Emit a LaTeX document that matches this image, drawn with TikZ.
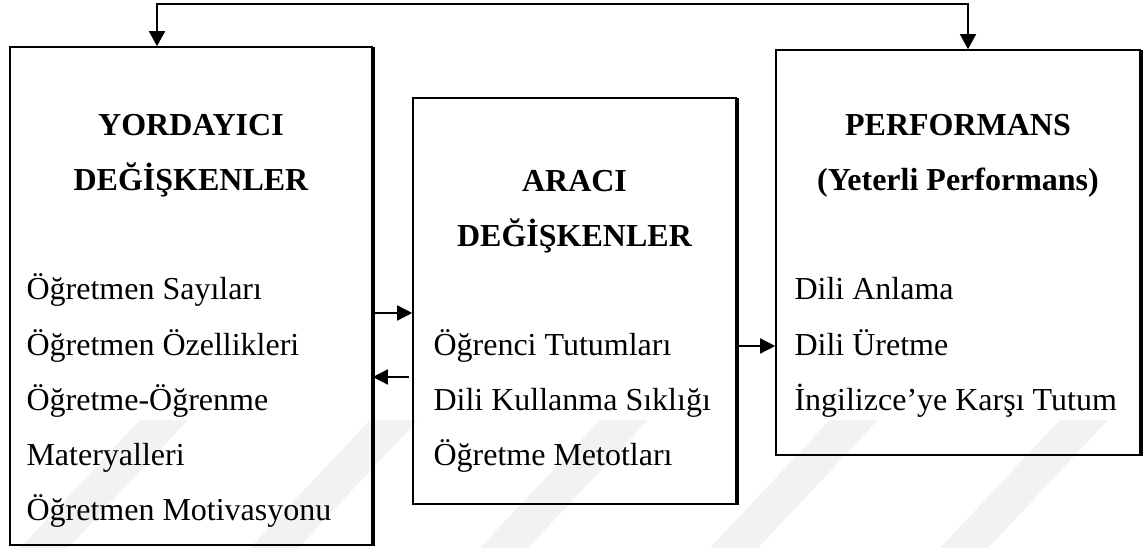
\documentclass[tikz,border=0pt]{standalone}
\usepackage{fontspec}
\setmainfont{Liberation Serif}
\usetikzlibrary{arrows.meta}
\begin{document}
\begin{tikzpicture}[x=1pt,y=-1pt,
  box/.style={draw, line width=1.6pt, inner sep=0pt},
  edgeshadow/.style={line width=1.8pt},
  conn/.style={line width=1.5pt},
  tip/.style={-{Triangle[length=15pt,width=15pt]}},
  headtext/.style={anchor=base, font=\fontsize{32}{38}\selectfont\bfseries},
  itemtext/.style={anchor=base west, font=\fontsize{32}{38}\selectfont},
  stripe/.style={fill=black!5, draw=none}]
\useasboundingbox (0,0) rectangle (1144,548);

% faint background stripes
\foreach \s in {20,250,480,710,940}{
  \fill[stripe] (\s,548) -- (\s+48,548) -- (\s+168,420) -- (\s+120,420) -- cycle;
}

% the three boxes
\node[box, minimum width=362pt, minimum height=498pt] (L) at (191,296) {};
\node[box, minimum width=323pt, minimum height=406pt] (M) at (574.5,301) {};
\node[box, minimum width=364pt, minimum height=405pt] (R) at (958,252.5) {};
% heavier right and bottom edges
\foreach \b in {L,M,R}{
  \draw[edgeshadow] ([xshift=1.1pt,yshift=-1pt]\b.north east) -- ([shift={(1.1pt,1.1pt)}]\b.south east) -- ([xshift=1pt,yshift=1.1pt]\b.south west);
}

% left box texts
\node[headtext] (l1) at (191,136) {YORDAYICI};
\node[headtext] (l2) at (191,191) {DEĞİŞKENLER};
\node[itemtext] (l3) at (23,300) {Öğretmen Sayıları};
\node[itemtext] (l4) at (23,355) {Öğretmen Özellikleri};
\node[itemtext] (l5) at (23,410) {Öğretme-Öğrenme};
\node[itemtext] (l6) at (23,465) {Materyalleri};
\node[itemtext] (l7) at (23,520) {Öğretmen Motivasyonu};

% middle box texts
\node[headtext] (m1) at (574.5,192) {ARACI};
\node[headtext] (m2) at (574.5,247) {DEĞİŞKENLER};
\node[itemtext] (m3) at (430,355) {Öğrenci Tutumları};
\node[itemtext] (m4) at (430,410) {Dili Kullanma Sıklığı};
\node[itemtext] (m5) at (430,465) {Öğretme Metotları};

% right box texts
\node[headtext] (r1) at (958,136) {PERFORMANS};
\node[headtext] (r2) at (958,191) {(Yeterli Performans)};
\node[itemtext] (r3) at (791,300) {Dili Anlama};
\node[itemtext] (r4) at (791,355) {Dili Üretme};
\node[itemtext] (r5) at (791,410) {İngilizce’ye Karşı Tutum};

% feedback loop across the top
\coordinate (tl) at (157,4);
\coordinate (tr) at (968,4);
\draw[conn, {Triangle[length=15pt,width=16pt]}-{Triangle[length=15pt,width=16pt]}]
  (tl |- L.north) -- (tl) -- (tr) -- (tr |- R.north);

% links between boxes
\coordinate (a1) at (0,313);
\coordinate (a2) at (0,377);
\coordinate (a3) at (0,346);
\draw[conn, tip] (L.east |- a1) -- (M.west |- a1);
\draw[conn, tip] ([xshift=-3pt]M.west |- a2) -- (L.east |- a2);
\draw[conn, tip] (M.east |- a3) -- (R.west |- a3);
\end{tikzpicture}
\end{document}
